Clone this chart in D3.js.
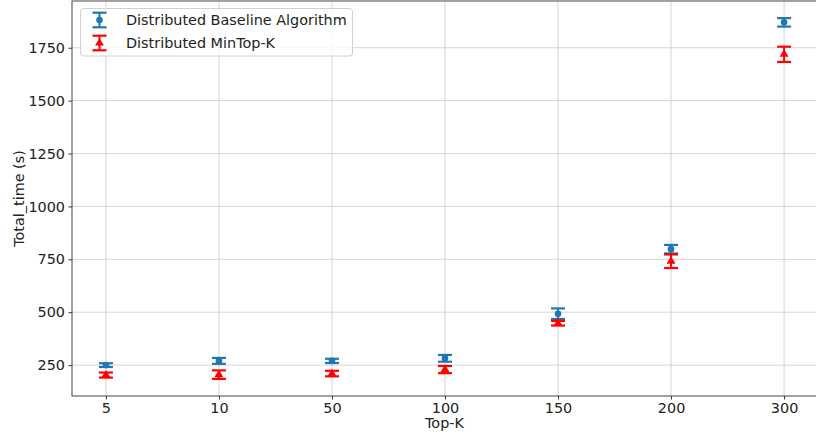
<!DOCTYPE html>
<html>
<head>
<meta charset="utf-8">
<script src="https://cdn.jsdelivr.net/npm/d3@7"></script>
<style>
  html, body { margin: 0; padding: 0; background: #fff; }
  svg { display: block; font-family: "DejaVu Sans", sans-serif; }
</style>
</head>
<body>
<svg id="chart" width="816" height="441"></svg>
<script>
// Categories on the x axis
const topK = ["5", "10", "50", "100", "150", "200", "300"];

// Mean total time (s) and its error for each algorithm
const baselineMean = [250, 270, 270, 282, 493, 798, 1870];
const baselineErr  = [9, 14, 10, 16, 25, 20, 20];
const minTopKMean  = [203, 205, 210, 229, 448, 741, 1719];
const minTopKErr   = [12, 20, 13, 17, 11, 32, 36];

const yTicks = [250, 500, 750, 1000, 1250, 1500, 1750];

const series = [
  { name: "Distributed Baseline Algorithm", color: "#1f77b4", marker: "circle", mean: baselineMean, err: baselineErr },
  { name: "Distributed MinTop-K", color: "#ff0000", marker: "triangle", mean: minTopKMean, err: minTopKErr }
];

const fontSize = "14.4px";
const svg = d3.select("#chart");
const plot = { left: 72, right: 818, top: 1, bottom: 396 };

const x = d3.scalePoint().domain(topK).range([plot.left, plot.right]).padding(0.3);
const y = d3.scaleLinear().domain([104, 1971]).range([plot.bottom, plot.top]);

// Grid lines
const grid = svg.append("g").attr("stroke", "#d0d0d0").attr("stroke-width", 0.9);
grid.selectAll("line.v").data(topK).join("line")
  .attr("x1", d => x(d)).attr("x2", d => x(d))
  .attr("y1", plot.top).attr("y2", plot.bottom);
grid.selectAll("line.h").data(yTicks).join("line")
  .attr("x1", plot.left).attr("x2", plot.right)
  .attr("y1", d => y(d)).attr("y2", d => y(d));

// Axes
const xAxis = svg.append("g")
  .attr("transform", `translate(0,${plot.bottom})`)
  .call(d3.axisBottom(x).tickSize(3.5).tickPadding(3));
const yAxis = svg.append("g")
  .attr("transform", `translate(${plot.left},0)`)
  .call(d3.axisLeft(y).tickValues(yTicks).tickSize(3.5).tickPadding(3.5).tickFormat(d3.format("d")));
[xAxis, yAxis].forEach(g => {
  g.select(".domain").remove();
  g.selectAll("line").attr("stroke", "#333").attr("stroke-width", 1);
  g.selectAll("text").attr("fill", "#222").style("font-size", fontSize).style("font-family", "DejaVu Sans");
});

// Frame
svg.append("rect")
  .attr("x", plot.left).attr("y", plot.top)
  .attr("width", plot.right - plot.left).attr("height", plot.bottom - plot.top)
  .attr("fill", "none").attr("stroke", "#444").attr("stroke-width", 1);

// Axis titles
svg.append("text")
  .attr("x", (plot.left + 818) / 2 - 0.5).attr("y", 428)
  .attr("text-anchor", "middle").attr("fill", "#222")
  .style("font-size", fontSize).text("Top-K");
svg.append("text")
  .attr("transform", `translate(23.5,${(plot.top + plot.bottom) / 2}) rotate(-90)`)
  .attr("text-anchor", "middle").attr("fill", "#222")
  .style("font-size", fontSize).text("Total_time (s)");

const capHalf = 7;
const tri = d3.symbol().type(d3.symbolTriangle).size(34);

function drawErrorBar(g, cx, yTop, yMid, yBot, s) {
  g.append("line").attr("x1", cx).attr("x2", cx).attr("y1", yTop).attr("y2", yBot)
    .attr("stroke", s.color).attr("stroke-width", 2);
  [yTop, yBot].forEach(yy => g.append("line")
    .attr("x1", cx - capHalf).attr("x2", cx + capHalf).attr("y1", yy).attr("y2", yy)
    .attr("stroke", s.color).attr("stroke-width", 2.2));
  if (s.marker === "circle") {
    g.append("circle").attr("cx", cx).attr("cy", yMid).attr("r", 3.3).attr("fill", s.color);
  } else {
    g.append("path").attr("d", tri).attr("transform", `translate(${cx},${yMid})`).attr("fill", s.color);
  }
}

// Error bars
series.forEach(s => {
  const g = svg.append("g");
  topK.forEach((k, i) => {
    const m = s.mean[i], e = s.err[i];
    drawErrorBar(g, x(k), y(m + e), y(m), y(m - e), s);
  });
});

// Legend
const legend = svg.append("g");
legend.append("rect")
  .attr("x", 80.5).attr("y", 8.5).attr("width", 272).attr("height", 47.5)
  .attr("rx", 3).attr("fill", "#fff").attr("fill-opacity", 0.8)
  .attr("stroke", "#d0d0d0").attr("stroke-width", 1);
series.forEach((s, i) => {
  const cy = 20 + i * 23;
  const g = legend.append("g");
  drawErrorBar(g, 99.5, cy - 7.3, cy, cy + 7.3, s);
  legend.append("text")
    .attr("x", 126).attr("y", cy + 5)
    .attr("fill", "#222").style("font-size", fontSize).text(s.name);
});
</script>
</body>
</html>
